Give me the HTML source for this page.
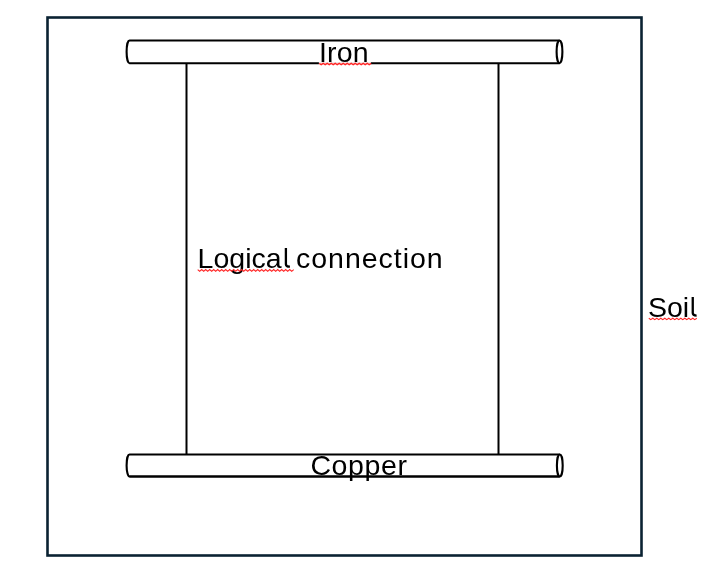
<!DOCTYPE html>
<html><head><meta charset="utf-8"><style>
html,body{margin:0;padding:0;background:#fff;width:723px;height:580px;overflow:hidden}
svg{display:block;will-change:transform}
text{font-family:"Liberation Sans",sans-serif;fill:#000}
</style></head><body>
<svg width="723" height="580" viewBox="0 0 723 580">
<rect x="47.5" y="17.5" width="594.0" height="538.0" fill="none" stroke="#0a2232" stroke-width="2.6"/>
<g fill="#fff" stroke="#000" stroke-width="2.1">
<path d="M559.5,40.5 L129.5,40.5 A2.9,11.350000000000001 0 0 0 129.5,63.2 L559.5,63.2"/><ellipse cx="559.5" cy="51.85" rx="2.9" ry="11.350000000000001"/>
<path d="M559.8,454.5 L129.5,454.5 A2.9,11.0 0 0 0 129.5,476.5 L559.8,476.5"/><ellipse cx="559.8" cy="465.5" rx="2.9" ry="11.0"/>
</g>
<g stroke="#000" stroke-width="2.0">
<line x1="186.5" y1="63.2" x2="186.5" y2="454.5"/>
<line x1="498.5" y1="63.2" x2="498.5" y2="454.5"/>
</g>
<rect x="318.9" y="62.1" width="52" height="3.2" fill="#fff"/>
<text x="319.00" y="61.70" font-size="28.5" letter-spacing="0.200">Iron</text>
<text x="197.54" y="267.70" font-size="28.5" letter-spacing="0.028">Logica</text>
<text x="296.00" y="267.70" font-size="28.5" letter-spacing="0.980">connection</text>
<text x="310.44" y="474.60" font-size="28.5" letter-spacing="0.600">Copper</text>
<text x="648.00" y="316.60" font-size="28.5" letter-spacing="-0.070">Soi</text>
<g fill="none" stroke="#000" stroke-width="2.3">
<path d="M285.9,248 V264.2 Q285.9,266.7 289.9,266.7"/>
<path d="M692.75,297.1 V313.1 Q692.75,315.6 696.6,315.6"/>
</g>
<g fill="none" stroke="#000" stroke-width="2.1">
<path d="M129.5,476.5 L559.5,476.5"/>
</g>
<g fill="none" stroke="#ff2424" stroke-width="1.1">
<polyline points="319.20,63.35 321.20,64.65 323.20,63.35 325.20,64.65 327.20,63.35 329.20,64.65 331.20,63.35 333.20,64.65 335.20,63.35 337.20,64.65 339.20,63.35 341.20,64.65 343.20,63.35 345.20,64.65 347.20,63.35 349.20,64.65 351.20,63.35 353.20,64.65 355.20,63.35 357.20,64.65 359.20,63.35 361.20,64.65 363.20,63.35 365.20,64.65 367.20,63.35 369.20,64.65 371.20,63.35" stroke-width="1.35"/>
<polyline points="197.70,269.55 199.70,271.35 201.70,269.55 203.70,271.35 205.70,269.55 207.70,271.35 209.70,269.55 211.70,271.35 213.70,269.55 215.70,271.35 217.70,269.55 219.70,271.35 221.70,269.55 223.70,271.35 225.70,269.55 227.70,271.35 229.70,269.55 231.70,271.35 233.70,269.55 235.70,271.35 237.70,269.55 239.70,271.35 241.70,269.55 243.70,271.35 245.70,269.55 247.70,271.35 249.70,269.55 251.70,271.35 253.70,269.55 255.70,271.35 257.70,269.55 259.70,271.35 261.70,269.55 263.70,271.35 265.70,269.55 267.70,271.35 269.70,269.55 271.70,271.35 273.70,269.55 275.70,271.35 277.70,269.55 279.70,271.35 281.70,269.55 283.70,271.35 285.70,269.55 287.70,271.35 289.70,269.55 291.70,271.35 293.70,269.55"/>
<polyline points="648.80,318.20 650.80,319.60 652.80,318.20 654.80,319.60 656.80,318.20 658.80,319.60 660.80,318.20 662.80,319.60 664.80,318.20 666.80,319.60 668.80,318.20 670.80,319.60 672.80,318.20 674.80,319.60 676.80,318.20 678.80,319.60 680.80,318.20 682.80,319.60 684.80,318.20 686.80,319.60 688.80,318.20 690.80,319.60 692.80,318.20 694.80,319.60 696.80,318.20"/>
</g>
</svg>
</body></html>
